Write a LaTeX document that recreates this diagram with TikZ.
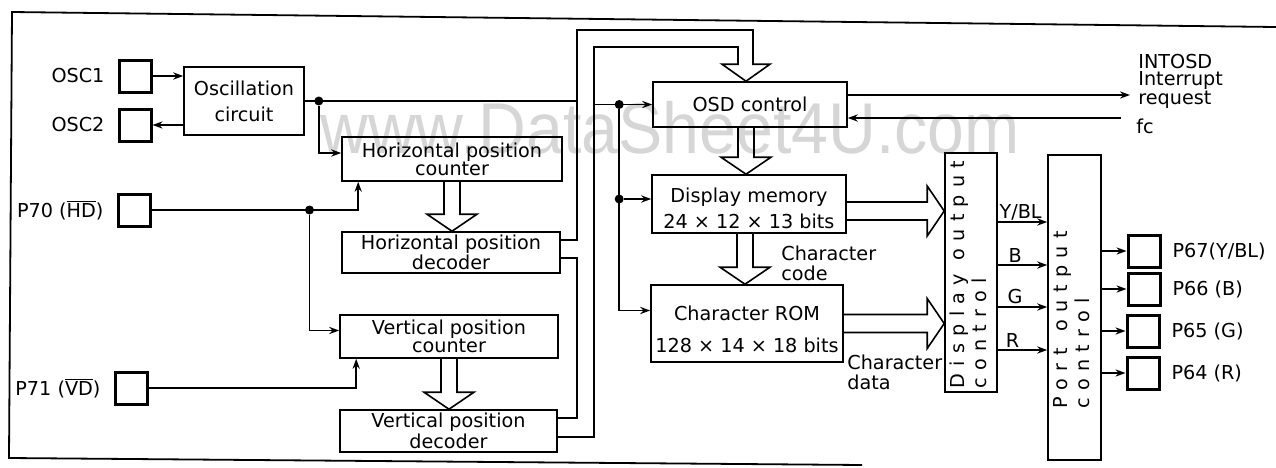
\documentclass[tikz,border=0pt]{standalone}
\usepackage{fontspec}
\setmainfont{DejaVu Sans}
\newfontfamily\wmfont{Liberation Sans}
\newfontfamily\spacedfont[LetterSpace=38]{DejaVu Sans}
\usepackage{xcolor}
\definecolor{wm-gray}{HTML}{D6D6D6}
\usetikzlibrary{arrows.meta,positioning,calc}

\tikzset{
  blk/.style={draw, line width=0.8pt, align=center, inner sep=1pt},
  pad/.style={draw, line width=1.5pt, minimum size=16pt, inner sep=0pt},
  sig/.style={line width=0.8pt, -{Stealth[length=5pt,width=3.6pt]}},
  wire/.style={line width=0.8pt},
  fat/.style={line width=0.8pt, line join=miter},
  jdot/.style={circle, fill, inner sep=0pt, minimum size=4.5pt},
  lbl/.style={inner sep=1pt, align=left},
  vtext/.style={rotate=90, anchor=north west, align=left, inner sep=1pt,
    font=\spacedfont\fontsize{9.6}{11}\selectfont},
}

% hollow bus arrows
\newcommand\fatdown[3][0]{%
  \draw[fat] ($(#2.south)+(#1-8,0)$) -- ($(#3.north -| #2.south)+(#1-8,-17)$) -- ++(-17,0)
    -- ($(#3.north -| #2.south)+(#1,0)$) -- ++(25,-17) -- ++(-17,0) -- ($(#2.south)+(#1+8,0)$);}
\newcommand\fatright[3][0]{%
  \draw[fat] ($(#2.east)+(0,#1-9)$) -- ($(#3.west |- #2.east)+(-17,#1-9)$) -- ++(0,-16)
    -- ($(#3.west |- #2.east)+(0,#1)$) -- ++(-17,25) -- ++(0,-16) -- ($(#2.east)+(0,#1+9)$);}

\begin{document}
\begin{tikzpicture}[x=0.5pt, y=-0.5pt, every node/.style={font=\fontsize{9.6}{9}\selectfont}]
  \useasboundingbox (0,0) rectangle (1276,467);
  \node[text=wm-gray, xscale=0.92, anchor=base, font=\wmfont\fontsize{36}{36}\selectfont] (wm) at (670,153) {www.DataSheet4U.com};
  \draw[line width=0.9pt] (1276,27) -- (12,12) -- (9,458) -- (862,465);

  % pins
  \node[pad] (osc1) at (135,76) {};
  \node[pad] (osc2) at (135,125) {};
  \node[pad] (p70) at (134,210) {};
  \node[pad] (p71) at (131,388) {};
  \node[left=3pt of osc1] (osc1l) {OSC1};
  \node[left=3pt of osc2] (osc2l) {OSC2};
  \node[left=3pt of p70] (p70l) {P70 ($\overline{\mbox{HD}}$)};
  \node[left=3pt of p71] (p71l) {P71 ($\overline{\mbox{VD}}$)};

  % blocks
  \node[blk, minimum width=60pt, minimum height=34pt] (osc) at (244,101) {Oscillation\\[4pt]circuit};
  \node[blk, minimum width=110pt, minimum height=22pt] (hpc) at (452,159) {Horizontal position\\counter};
  \node[blk, minimum width=109pt, minimum height=20.5pt] (hpd) at (451,252.5) {Horizontal position\\decoder};
  \node[blk, minimum width=109pt, minimum height=21.5pt] (vpc) at (449,336.5) {Vertical position\\counter};
  \node[blk, minimum width=108.5pt, minimum height=21pt] (vpd) at (448.5,431) {Vertical position\\decoder};
  \node[blk, minimum width=97pt, minimum height=22.5pt] (osd) at (750,104.5) {OSD control};
  \node[blk, minimum width=97pt, minimum height=29pt] (dm) at (749,204) {\rule{0pt}{11.5pt}Display memory\\[3pt]24 × 12 × 13 bits};
  \node[blk, minimum width=96pt, minimum height=38.5pt] (rom) at (747,323.5) {\rule{0pt}{13pt}Character ROM\\[7pt]128 × 14 × 18 bits};
  \node[blk, minimum width=26pt, minimum height=119.5pt] (doc) at (971,272.5) {};
  \node[blk, minimum width=26.5pt, minimum height=152.5pt] (poc) at (1074.5,307.5) {};
  \node[vtext] (doct) at ($(doc.south west)+(3,-2)$) {Display output\\control};
  \node[vtext] (poct) at ($(poc.south west)+(4,-50)$) {Port\hspace{2pt} output\\control};

  % clock and sync inputs
  \draw[sig] (osc1.east) -- (osc.west |- osc1.east);
  \draw[sig] (osc.west |- osc2.east) -- (osc2.east);
  \coordinate (bo) at (577,30);
  \coordinate (bi) at (594,47);
  \coordinate (bm) at (577,418);
  \coordinate (osdin) at ($(osd.north)+(-4,0)$);
  \draw[wire] (osc.east) -- (osc.east -| bo);
  \node[jdot] (j0) at ($(osc.east)+(14,0)$) {};
  \draw[sig] (j0) |- ($(hpc.west)+(0,-6)$);
  \draw[sig] (p70.east) -| ($(hpc.south west)+(17,0)$);
  \node[jdot] (j2) at ($(p70.east)+(158,0)$) {};
  \draw[sig] (j2) |- ($(vpc.west)+(0,-6)$);
  \draw[sig] (p71.east) -| ($(vpc.south west)+(17,0)$);

  % position bus to OSD control
  \fatdown{hpc}{hpd}
  \fatdown{vpc}{vpd}
  \draw[fat] ($(hpd.east)+(0,-12.5)$) -| (bo) -| ($(osdin)+(7,-17)$) -- ++(17,0) -- (osdin)
    -- ++(-24,-17) -- ++(16,0) |- (bi) |- ($(vpd.east)+(0,6)$);
  \draw[fat] ($(hpd.east)+(0,5.5)$) -| (bm) -- (vpd.east |- bm);

  % clock to OSD blocks
  \draw[sig] (osd.west -| bi) -- (osd.west);
  \node[jdot] (j1) at ($(osd.west)+(-33,0)$) {};
  \node[jdot] (j3) at ($(j1 |- dm.west)+(0,-5)$) {};
  \draw[sig] (j3) -- (j3 -| dm.west);
  \draw[sig] (j1) |- ($(rom.west)+(0,-13)$);
  \fatdown[-4]{osd}{dm}
  \fatdown[-4]{dm}{rom}
  \node[lbl, anchor=north west, font=\fontsize{9.6}{10}\selectfont] (ccode) at (779,244) {Character\\code};
  \fatright[7]{dm}{doc}
  \fatright{rom}{doc}
  \node[lbl, anchor=north west, font=\fontsize{9.6}{10}\selectfont] (cdata) at (845,353) {Character\\data};

  % interrupt and fc
  \coordinate (intr) at (1130,95);
  \coordinate (fcin) at (1121,118);
  \draw[sig] (osd.east |- intr) -- (intr);
  \draw[sig] (fcin) -- (osd.east |- fcin);
  \node[lbl, anchor=north west, font=\fontsize{9.6}{8.3}\selectfont] (intl) at (1136,52) {INTOSD\\Interrupt\\request};
  \node[lbl, anchor=west] (fcl) at (1134,126) {fc};

  % colour signals
  \draw[sig] ($(doc.east)+(0,-50.5)$) coordinate (s1) -- (s1 -| poc.west) node[pos=0, above right, inner sep=0.5pt] {Y/BL};
  \draw[sig] ($(doc.east)+(0,-7.5)$) coordinate (s2) -- (s2 -| poc.west) node[pos=0.35, above, inner sep=1pt] {B};
  \draw[sig] ($(doc.east)+(0,34.5)$) coordinate (s3) -- (s3 -| poc.west) node[pos=0.35, above, inner sep=1pt] {G};
  \draw[sig] ($(doc.east)+(0,77.5)$) coordinate (s4) -- (s4 -| poc.west) node[pos=0.3, above, inner sep=1pt] {R};

  % output pins
  \node[pad] (p67) at (1144,251) {};
  \node[pad] (p66) at (1144,289) {};
  \node[pad] (p65) at (1143,331) {};
  \node[pad] (p64) at (1143,373) {};
  \draw[sig] (poc.east |- p67.west) -- (p67.west);
  \draw[sig] (poc.east |- p66.west) -- (p66.west);
  \draw[sig] (poc.east |- p65.west) -- (p65.west);
  \draw[sig] (poc.east |- p64.west) -- (p64.west);
  \node[right=2pt of p67] (p67l) {P67(Y/BL)};
  \node[right=2pt of p66] (p66l) {P66 (B)};
  \node[right=2pt of p65] (p65l) {P65 (G)};
  \node[right=2pt of p64] (p64l) {P64 (R)};
\end{tikzpicture}
\end{document}
